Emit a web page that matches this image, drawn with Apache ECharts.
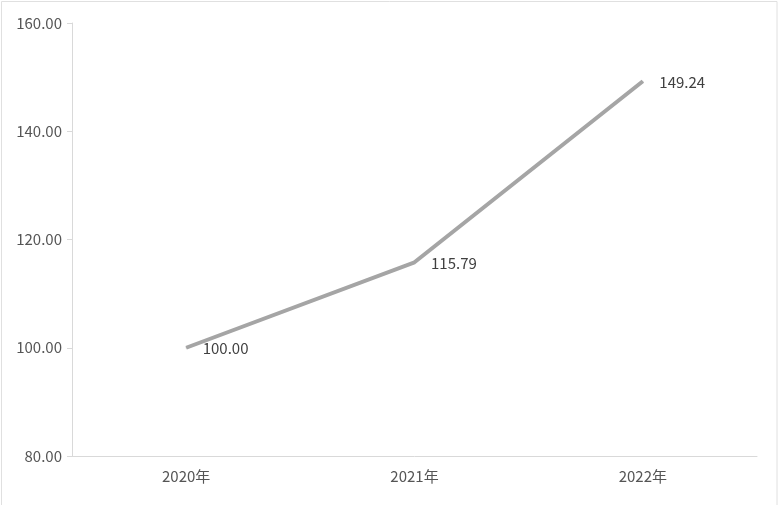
<!DOCTYPE html>
<html><head><meta charset="utf-8">
<script src="https://cdn.jsdelivr.net/npm/echarts@6/dist/echarts.min.js"></script>
<style>html,body{margin:0;padding:0;background:#fff}#c{width:779px;height:505px}</style>
</head><body><div id="c"></div>
<script>
var categories = ['2020年', '2021年', '2022年'];
var values = [100.00, 115.79, 149.24];
var yTicks = [80, 100, 120, 140, 160];

var chart = echarts.init(document.getElementById('c'));
var font = '"Noto Sans CJK SC", "Noto Sans", sans-serif';
chart.setOption({
  animation: false,
  backgroundColor: '#fff',
  graphic: [{
    type: 'rect', shape: { x: 1.5, y: 1.5, width: 775.5, height: 520 },
    style: { fill: 'none', stroke: '#e0e0e0', lineWidth: 1 }, silent: true
  }],
  grid: { left: 72, right: 22, top: 23, bottom: 49 },
  xAxis: {
    type: 'category', data: categories, boundaryGap: true,
    axisLine: { lineStyle: { color: '#d9d9d9', width: 1 } },
    axisTick: { show: false },
    axisLabel: { color: '#555555', fontSize: 15, fontFamily: font, margin: 13 }
  },
  yAxis: {
    type: 'value', min: yTicks[0], max: yTicks[yTicks.length - 1], interval: 20,
    axisLine: { show: true, lineStyle: { color: '#d9d9d9', width: 1 } },
    axisTick: { show: true, length: 5, lineStyle: { color: '#d9d9d9' } },
    splitLine: { show: false },
    axisLabel: { color: '#555555', fontSize: 15, fontFamily: font, margin: 10,
      formatter: function (v) { return v.toFixed(2); } }
  },
  series: [{
    type: 'line', data: values, symbol: 'circle', symbolSize: 1, showSymbol: true,
    itemStyle: { color: '#a5a5a5' },
    lineStyle: { color: '#a5a5a5', width: 4 },
    label: { show: true, position: 'right', distance: 16, color: '#404040',
      fontSize: 15, fontFamily: font, offset: [0, 1],
      formatter: function (p) { return p.value.toFixed(2); } }
  }]
});
</script></body></html>
